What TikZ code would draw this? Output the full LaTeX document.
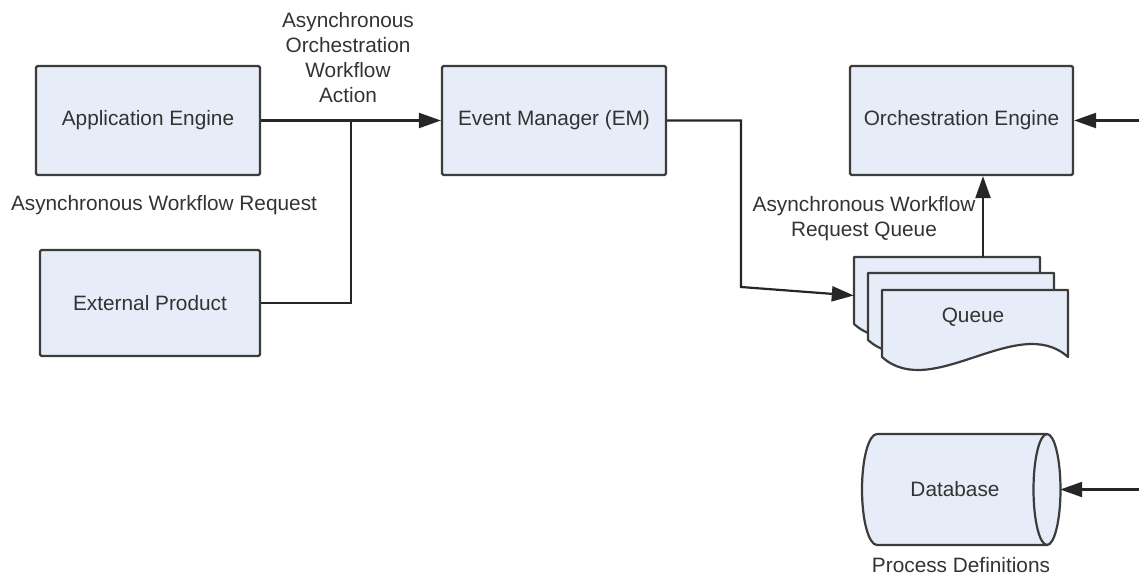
\documentclass[tikz,border=0pt]{standalone}
\usepackage{fontspec}
\setmainfont{Liberation Sans}
\usetikzlibrary{arrows.meta}
\definecolor{boxfill}{HTML}{E6ECF8}
\definecolor{boxline}{HTML}{3C3C3C}
\definecolor{txt}{HTML}{333333}
\tikzset{
  every node/.style={font=\fontsize{20.8bp}{25bp}\selectfont, text=txt},
  block/.style={draw=boxline, fill=boxfill, line width=2.2bp, rounded corners=1.5bp,
    inner sep=0pt, minimum width=224bp, minimum height=109bp},
  link/.style={draw=black!85, line width=2.2bp},
  flow/.style={link, -{Triangle[length=22bp, width=15bp]}},
  lbl/.style={align=center, inner sep=0pt},
  sheetline/.style={draw=boxline, fill=boxfill, line width=2.2bp, line join=round},
  sheet/.pic={
    \path[sheetline] (0,0) -- (186,0) -- (186,67)
      .. controls (136,22) and (50,112) .. (0,67) -- cycle;
  }
}
\begin{document}
\begin{tikzpicture}[x=1bp, y=-1bp]
\useasboundingbox (0,0) rectangle (1139,575);

% process boxes
\node[block] (ae) at (148,120.5) {Application Engine};
\node[block, minimum width=220bp, minimum height=106bp] (ep) at (150,303) {External Product};
\node[block] (em) at (554,120.5) {Event Manager (EM)};
\node[block, minimum width=223bp] (oe) at (961.5,120.5) {Orchestration Engine};

% stacked queue documents
\pic at (854,257) {sheet};
\pic at (868,273) {sheet};
\pic at (882,290) {sheet};
\node (q) [inner sep=0pt, minimum width=186bp, minimum height=67bp] at (947,290.5) {};
\node at (973,317) {Queue};

% database cylinder
\path[sheetline] (877,434) -- (1047,434)
  arc[start angle=90, end angle=-90, x radius=13.5bp, y radius=55.5bp]
  -- (877,545)
  arc[start angle=270, end angle=90, x radius=15bp, y radius=55.5bp] -- cycle;
\draw[boxline, line width=2.2bp] (1047,434)
  arc[start angle=90, end angle=270, x radius=13.5bp, y radius=55.5bp];
\node[inner sep=0pt, minimum width=198bp, minimum height=111bp] (db) at (961,489.5) {};
\node at (955,489) {Database};

% connectors
\coordinate (j) at (351,120.5);
\draw[link] (ae.east) -- (j);
\draw[link] (ep.east) -| (j);
\draw[flow] (j) -- (em.west);
\coordinate (bend) at (741,287);
\draw[flow] (em.east) -| (bend) -- ([yshift=-5bp]q.west);
\draw[flow] (q.north -| 983,0) -- (oe.south -| 983,0);
\coordinate (oein) at (1139,120.5);
\draw[flow] (oein) -- (oe.east);
\coordinate (dbin) at (1139,489.5);
\draw[flow] (dbin) -- (db.east);

% labels
\node[lbl] at (348,57.5) {Asynchronous\\Orchestration\\Workflow\\Action};
\node[lbl] at (164,205) {Asynchronous Workflow Request};
\node[lbl] at (864,219) {Asynchronous Workflow\\Request Queue};
\node[lbl] at (961,565) {Process Definitions};
\end{tikzpicture}
\end{document}
